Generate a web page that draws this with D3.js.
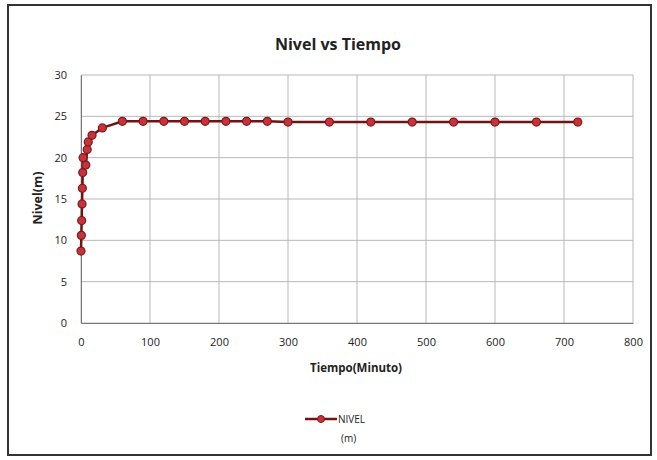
<!DOCTYPE html>
<html><head><meta charset="utf-8">
<script src="https://cdn.jsdelivr.net/npm/d3@7"></script>
<style>body{margin:0;background:#fff;} svg{display:block;}</style>
</head><body>
<svg id="c" width="657" height="460"></svg>
<script>
const tiempo = [0,0.5,1,1.5,2,2.5,3,7,9,10.5,16,31,60,90,120,150,180,210,240,270,300,360,420,480,540,600,660,720];
const nivel  = [8.7,10.6,12.4,14.4,16.3,18.2,20.0,19.1,21.0,21.9,22.7,23.6,24.4,24.4,24.4,24.4,24.4,24.4,24.4,24.4,24.3,24.3,24.3,24.3,24.3,24.3,24.3,24.3];
const xTicks = [0,100,200,300,400,500,600,700,800];
const yTicks = [0,5,10,15,20,25,30];
const title = "Nivel vs Tiempo";
const xTitle = "Tiempo(Minuto)";
const yTitle = "Nivel(m)";
const legendLines = ["NIVEL","(m)"];

const svg = d3.select("#c");
const font = "'Open Sans', Lato, sans-serif";
svg.append("rect").attr("x",8).attr("y",5).attr("width",643).attr("height",450)
  .attr("fill","#fff").attr("stroke","#333").attr("stroke-width",2);

const x = d3.scaleLinear().domain([0,800]).range([81,633]);
const y = d3.scaleLinear().domain([0,30]).range([323,75]);

// grid
const g = svg.append("g");
g.selectAll(".gx").data(xTicks).join("line")
  .attr("x1",d=>x(d)).attr("x2",d=>x(d)).attr("y1",y(0)).attr("y2",y(30))
  .attr("stroke","#b8b8b8").attr("stroke-width",1);
g.selectAll(".gy").data(yTicks).join("line")
  .attr("x1",x(0)).attr("x2",x(800)).attr("y1",d=>y(d)).attr("y2",d=>y(d))
  .attr("stroke","#b8b8b8").attr("stroke-width",1);

// axes
const xa = svg.append("g").attr("transform",`translate(0,${y(0)})`)
  .call(d3.axisBottom(x).tickValues(xTicks).tickSize(0).tickPadding(15));
xa.select(".domain").attr("stroke","#777");
xa.selectAll("text").attr("font-family",font).attr("font-size",11).attr("fill","#222");
const ya = svg.append("g").attr("transform",`translate(${x(0)},0)`)
  .call(d3.axisLeft(y).tickValues(yTicks).tickSize(0).tickPadding(14));
ya.select(".domain").attr("stroke","#777");
ya.selectAll("text").attr("font-family",font).attr("font-size",11).attr("fill","#222");

// line
const pts = tiempo.map((t,i)=>[t,nivel[i]]);
svg.append("path").datum(pts)
  .attr("d",d3.line().x(d=>x(d[0])).y(d=>y(d[1])))
  .attr("fill","none").attr("stroke","#6e1414").attr("stroke-width",2.5);
svg.selectAll(".pt").data(pts).join("circle")
  .attr("cx",d=>x(d[0])).attr("cy",d=>y(d[1])).attr("r",4)
  .attr("fill","#c8323a").attr("stroke","#7a1a1a").attr("stroke-width",1.2);

// titles
svg.append("text").attr("x",338).attr("y",50).attr("text-anchor","middle")
  .attr("font-family",font).attr("font-weight","bold").attr("font-size",16).attr("fill","#222").text(title);
svg.append("text").attr("x",356).attr("y",372).attr("text-anchor","middle")
  .attr("font-family",font).attr("font-weight","bold").attr("font-size",11.5).attr("fill","#222").text(xTitle);
svg.append("text").attr("transform",`translate(42,198) rotate(-90)`).attr("text-anchor","middle")
  .attr("font-family",font).attr("font-weight","bold").attr("font-size",12.5).attr("fill","#222").text(yTitle);

// legend
svg.append("line").attr("x1",305).attr("x2",337).attr("y1",419).attr("y2",419)
  .attr("stroke","#6e1414").attr("stroke-width",2.5);
svg.append("circle").attr("cx",321).attr("cy",419).attr("r",3.5)
  .attr("fill","#c8323a").attr("stroke","#7a1a1a").attr("stroke-width",1);
svg.append("text").attr("x",338).attr("y",423).attr("font-family",font).attr("font-size",10).attr("fill","#222").text(legendLines[0]);
svg.append("text").attr("x",341).attr("y",442).attr("font-family",font).attr("font-size",10).attr("fill","#222").text(legendLines[1]);
</script>
</body></html>
